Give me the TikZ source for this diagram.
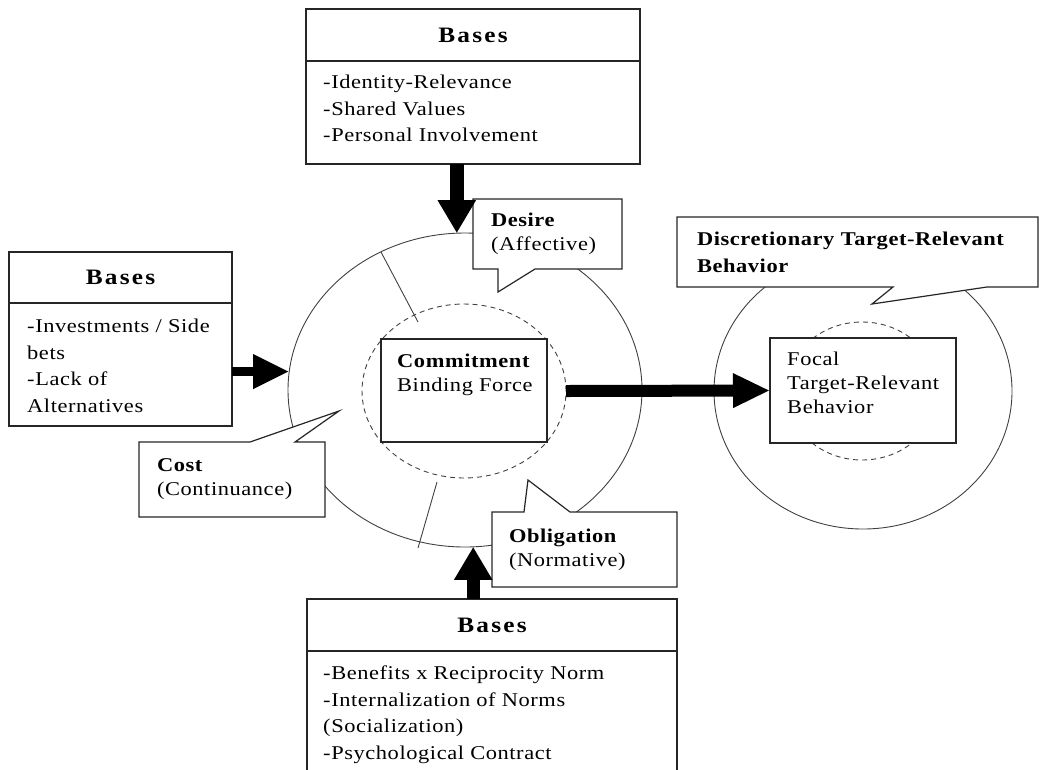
\documentclass[tikz,border=0pt]{standalone}
\usepackage{fontspec}
\setmainfont{Liberation Serif}[FakeStretch=1.15, LetterSpace=3]
\usepackage{tikz}
\usetikzlibrary{
    arrows.meta,
    shapes.geometric,
    calc,
    positioning
}
\newcommand{\txtsize}{\fontsize{19.5}{24}\selectfont}
\newcommand{\lstsize}{\fontsize{19.5}{26.5}\selectfont}
\newcommand{\hdsize}{\fontsize{22}{26}\selectfont\bfseries\addfontfeatures{LetterSpace=10}}

\begin{document}
\begin{tikzpicture}[x=1pt, y=-1pt, font=\txtsize,
    frame/.style={draw=black!85, line width=1.2pt, fill=white, inner sep=0pt, outer sep=0pt},
    ringline/.style={draw=black!75, line width=0.9pt},
    ringnode/.style={ellipse, ringline, inner sep=0pt, outer sep=0pt},
    dashring/.style={ringnode, dash pattern=on 5pt off 4pt},
    calloutline/.style={draw=black!85, line width=1.2pt, fill=white},
    plaintext/.style={inner sep=0pt, align=left},
    bubbletext/.style={plaintext, text width=#1},
    heading/.style={frame, font=\hdsize},
    listtext/.style={plaintext, font=\lstsize, anchor=north west},
    bigarrow/.style n args={3}{line width=#1, -{Triangle[length=#2 0 0, width=#3 0 0]}}
]
    \useasboundingbox (0,0) rectangle (1040,769);

    % rings
    \node[ringnode, minimum width=354pt, minimum height=314pt] (bindRing) at (465,390) {};
    \node[dashring, minimum width=204pt, minimum height=174pt] (bindIn) at (464,391) {};
    \node[ringnode, minimum width=298pt, minimum height=276pt] (discRing) at (863,391) {};
    \node[dashring, minimum width=152pt, minimum height=138pt] (focalIn) at (862,391) {};

    \draw[ringline] (381,252) -- (418,322);
    \draw[ringline] (437,482) -- (418,548);

    % inner boxes
    \node[frame, minimum width=166pt, minimum height=103pt] (commit) at (464,390.5) {};
    \node[plaintext, anchor=north west] (commitText) at ([shift={(16,14.5)}]commit.north west)
        {\textbf{Commitment}\\Binding Force};
    \node[frame, minimum width=186pt, minimum height=105pt] (focal) at (863,390.5) {};
    \node[plaintext, anchor=north west] (focalText) at ([shift={(17,13.5)}]focal.north west)
        {Focal\\Target-Relevant\\Behavior};

    % callouts
    \draw[calloutline] (473,199) -- (622,199) -- (622,269) -- (535,269) -- (498,292)
        -- (498,269) -- (473,269) -- cycle;
    \node[bubbletext=113pt] (desire) at (547.5,234) {\textbf{Desire}\\(Affective)};

    \draw[calloutline] (139,442) -- (250,442) -- (339,411) -- (295,442) -- (325,442)
        -- (325,517) -- (139,517) -- cycle;
    \node[bubbletext=150pt] (cost) at (232,479.5) {\textbf{Cost}\\(Continuance)};

    \draw[calloutline] (492,512) -- (524,512) -- (528,480) -- (570,512) -- (677,512)
        -- (677,587) -- (492,587) -- cycle;
    \node[bubbletext=151pt] (oblig) at (584.5,549.5) {\textbf{Obligation}\\(Normative)};

    \draw[calloutline] (677,217) -- (1038,217) -- (1038,287) -- (987,287) -- (872,304)
        -- (893,287) -- (677,287) -- cycle;
    \node[bubbletext=321pt, font=\fontsize{19.5}{27}\selectfont] (disc) at (857.5,252)
        {\textbf{Discretionary Target-Relevant}\\\textbf{Behavior}};

    % bases boxes
    \node[heading, minimum width=334pt, minimum height=52pt] (topHead) at (473,35) {Bases};
    \node[frame, minimum width=334pt, minimum height=103pt, below=0pt of topHead] (topBody) {};
    \node[listtext] (topList) at ([shift={(17,14)}]topBody.north west)
        {-Identity-Relevance\\-Shared Values\\-Personal Involvement};

    \node[heading, minimum width=223pt, minimum height=51pt] (leftHead) at (120.5,277.5) {Bases};
    \node[frame, minimum width=223pt, minimum height=123pt, below=0pt of leftHead] (leftBody) {};
    \node[listtext] (leftList) at ([shift={(18,16)}]leftBody.north west)
        {-Investments / Side\\bets\\-Lack of\\Alternatives};

    \node[heading, minimum width=370pt, minimum height=52pt] (botHead) at (492,625) {Bases};
    \node[frame, minimum width=370pt, minimum height=126pt, below=0pt of botHead] (botBody) {};
    \node[listtext] (botList) at ([shift={(16,15)}]botBody.north west)
        {-Benefits x Reciprocity Norm\\-Internalization of Norms\\(Socialization)\\-Psychological Contract};

    % arrows
    \draw[bigarrow={14pt}{33pt}{36pt}] (topBody.south -| bindRing.93.6) -- (bindRing.93.6);
    \draw[bigarrow={9.5pt}{36pt}{32pt}] (leftBody.east |- bindRing.174.5) -- (bindRing.174.5);
    \draw[bigarrow={13pt}{33pt}{36pt}] (botHead.north -| bindRing.273.3) -- (bindRing.273.3);
    \draw[bigarrow={12pt}{37pt}{32pt}] (bindIn.east) -- (focal.west);
\end{tikzpicture}
\end{document}
